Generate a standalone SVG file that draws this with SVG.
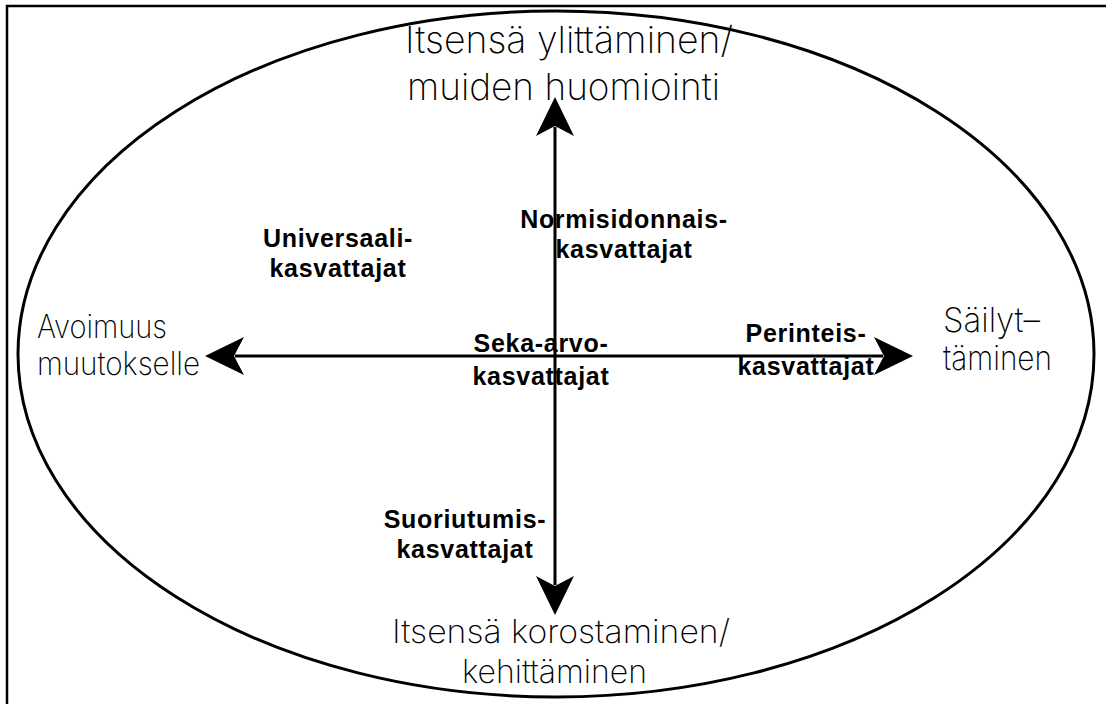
<svg xmlns="http://www.w3.org/2000/svg" width="1106" height="704" viewBox="0 0 1106 704">
<style>
.frame{fill:none;stroke:#000;stroke-width:2.5}
.oval{fill:none;stroke:#000;stroke-width:3}
.axis{fill:none;stroke:#000;stroke-width:3;marker-start:url(#head);marker-end:url(#head)}
.thin{font-family:Inter,"DejaVu Sans","Liberation Sans",sans-serif;font-weight:200;fill:#000}
.bold{font-family:"Liberation Sans",Arial,sans-serif;font-weight:bold;font-size:25px;letter-spacing:0.7px;fill:#000;text-anchor:middle}
</style>
<defs>
<marker id="head" markerUnits="userSpaceOnUse" viewBox="-10 -20 41 40" refX="0" refY="0" markerWidth="41" markerHeight="40" orient="auto-start-reverse">
<path d="M30,0 L-9,-19 L1,0 L-9,19 Z" fill="#000"/>
</marker>
</defs>
<rect width="1106" height="704" fill="#fff"/>
<g id="frame">
<path class="frame" d="M7,704 V6 H1106"/>
</g>
<g id="oval">
<ellipse class="oval" cx="556" cy="354" rx="538" ry="343"/>
</g>
<g id="connectors">
<line class="axis" x1="555" y1="585" x2="555" y2="127"/>
<line class="axis" x1="883" y1="356" x2="235" y2="356"/>
</g>
<g id="top">
<text class="thin" x="405" y="53" font-size="37" textLength="328" lengthAdjust="spacingAndGlyphs">Itsensä ylittäminen/</text>
<text class="thin" x="407" y="100" font-size="37" textLength="313" lengthAdjust="spacingAndGlyphs">muiden huomiointi</text>
</g>
<g id="left">
<text class="thin" x="37" y="338" font-size="32" textLength="130" lengthAdjust="spacingAndGlyphs">Avoimuus</text>
<text class="thin" x="37" y="375" font-size="32" textLength="163" lengthAdjust="spacingAndGlyphs">muutokselle</text>
</g>
<g id="right">
<text class="thin" x="943" y="332" font-size="34" textLength="97" lengthAdjust="spacingAndGlyphs">Säilyt–</text>
<text class="thin" x="943" y="370" font-size="34" textLength="109" lengthAdjust="spacingAndGlyphs">täminen</text>
</g>
<g id="bottom">
<text class="thin" x="392" y="643" font-size="33" textLength="338" lengthAdjust="spacingAndGlyphs">Itsensä korostaminen/</text>
<text class="thin" x="462" y="683" font-size="33" textLength="185" lengthAdjust="spacingAndGlyphs">kehittäminen</text>
</g>
<g id="universaali">
<text class="bold" x="338" y="247">Universaali-</text>
<text class="bold" x="338" y="277">kasvattajat</text>
</g>
<g id="normisidonnais">
<text class="bold" x="624" y="228">Normisidonnais-</text>
<text class="bold" x="624" y="258">kasvattajat</text>
</g>
<g id="sekaarvo">
<text class="bold" x="541" y="352">Seka-arvo-</text>
<text class="bold" x="541" y="385">kasvattajat</text>
</g>
<g id="perinteis">
<text class="bold" x="806" y="342">Perinteis-</text>
<text class="bold" x="806" y="375">kasvattajat</text>
</g>
<g id="suoriutumis">
<text class="bold" x="465" y="528">Suoriutumis-</text>
<text class="bold" x="465" y="558">kasvattajat</text>
</g>
</svg>
